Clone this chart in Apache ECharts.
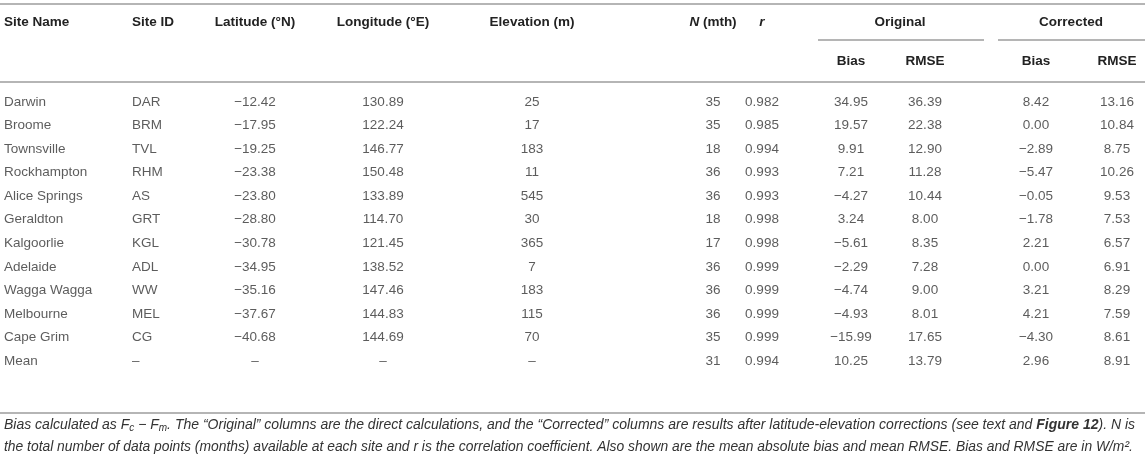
<!DOCTYPE html>
<html lang="en">
<head>
  <meta charset="UTF-8">
  <title>Site statistics table</title>
  <script src="https://cdn.jsdelivr.net/npm/echarts@6.0.0/dist/echarts.min.js"></script>
  <style>
    body { margin: 0; background: #fff; }
  </style>
</head>
<body>
  <div id="main" style="width: 1145px; height: 464px;"></div>

  <script>
    // Table data, one array per column
    const siteNames = ['Darwin', 'Broome', 'Townsville', 'Rockhampton', 'Alice Springs', 'Geraldton',
      'Kalgoorlie', 'Adelaide', 'Wagga Wagga', 'Melbourne', 'Cape Grim', 'Mean'];
    const siteIds = ['DAR', 'BRM', 'TVL', 'RHM', 'AS', 'GRT', 'KGL', 'ADL', 'WW', 'MEL', 'CG', null];
    const latitude = [-12.42, -17.95, -19.25, -23.38, -23.80, -28.80, -30.78, -34.95, -35.16, -37.67, -40.68, null];
    const longitude = [130.89, 122.24, 146.77, 150.48, 133.89, 114.70, 121.45, 138.52, 147.46, 144.83, 144.69, null];
    const elevation = [25, 17, 183, 11, 545, 30, 365, 7, 183, 115, 70, null];
    const months = [35, 35, 18, 36, 36, 18, 17, 36, 36, 36, 35, 31];
    const corrR = [0.982, 0.985, 0.994, 0.993, 0.993, 0.998, 0.998, 0.999, 0.999, 0.999, 0.999, 0.994];
    const origBias = [34.95, 19.57, 9.91, 7.21, -4.27, 3.24, -5.61, -2.29, -4.74, -4.93, -15.99, 10.25];
    const origRmse = [36.39, 22.38, 12.90, 11.28, 10.44, 8.00, 8.35, 7.28, 9.00, 8.01, 17.65, 13.79];
    const corrBias = [8.42, 0.00, -2.89, -5.47, -0.05, -1.78, 2.21, 0.00, 3.21, 4.21, -4.30, 2.96];
    const corrRmse = [13.16, 10.84, 8.75, 10.26, 9.53, 7.53, 6.57, 6.91, 8.29, 7.59, 8.61, 8.91];

    const textColor = '#333';
    const ruleColor = '#b5b5b5';
    const fontFamily = '"Liberation Sans", Arial, sans-serif';

    // number -> table text (real minus sign, dash for missing)
    function fmt(v, digits) {
      if (v === null || v === undefined) return '\u2013';
      if (typeof v === 'string') return v;
      const s = digits === undefined ? String(v) : Math.abs(v).toFixed(digits);
      return v < 0 ? '\u2212' + s.replace('-', '') : s;
    }

    // column layout: x position on the horizontal value axis + alignment
    const columns = [
      { values: siteNames, x: 4, align: 'left' },
      { values: siteIds, x: 132, align: 'left' },
      { values: latitude, digits: 2, x: 255, align: 'center' },
      { values: longitude, digits: 2, x: 383, align: 'center' },
      { values: elevation, x: 532, align: 'center' },
      { values: months, x: 713, align: 'center' },
      { values: corrR, digits: 3, x: 762, align: 'center' },
      { values: origBias, digits: 2, x: 851, align: 'center' },
      { values: origRmse, digits: 2, x: 925, align: 'center' },
      { values: corrBias, digits: 2, x: 1036, align: 'center' },
      { values: corrRmse, digits: 2, x: 1117, align: 'center' }
    ];

    const series = columns.map(col => ({
      type: 'scatter',
      symbolSize: 0,
      silent: true,
      data: col.values.map((v, i) => [col.x, i]),
      label: {
        show: true,
        position: 'inside',
        align: col.align,
        color: textColor,
        fontFamily: fontFamily,
        fontSize: 13.5,
        formatter: p => fmt(col.values[p.dataIndex], col.digits)
      }
    }));

    // header and caption drawn as graphic text
    function headText(text, x, y, align, rich) {
      return {
        type: 'text', x: x, y: y, silent: true,
        style: {
          text: text, align: align, verticalAlign: 'middle',
          fill: '#222', font: 'bold 13.5px ' + fontFamily, rich: rich
        }
      };
    }
    function rule(x1, x2, y) {
      return {
        type: 'line', silent: true,
        shape: { x1: x1, y1: y, x2: x2, y2: y },
        style: { stroke: ruleColor, lineWidth: 2 }
      };
    }

    const capRich = {
      sub: { fontSize: 10, fontStyle: 'italic', fill: '#333', verticalAlign: 'bottom', padding: [7, 0, 0, 0] },
      b: { fontWeight: 'bold', fontStyle: 'italic', fontSize: 14, fill: '#333' }
    };
    const italicHead = { i: { fontStyle: 'italic', fontWeight: 'bold', fontSize: 13.5, fill: '#222' } };

    const graphics = [
      rule(0, 1145, 4),
      rule(818, 984, 40),
      rule(998, 1145, 40),
      rule(0, 1145, 82),
      rule(0, 1145, 413),
      headText('Site Name', 4, 22, 'left'),
      headText('Site ID', 132, 22, 'left'),
      headText('Latitude (°N)', 255, 22, 'center'),
      headText('Longitude (°E)', 383, 22, 'center'),
      headText('Elevation (m)', 532, 22, 'center'),
      headText('{i|N} (mth)', 713, 22, 'center', italicHead),
      headText('{i|r}', 762, 22, 'center', italicHead),
      headText('Original', 900, 22, 'center'),
      headText('Corrected', 1071, 22, 'center'),
      headText('Bias', 851, 61, 'center'),
      headText('RMSE', 925, 61, 'center'),
      headText('Bias', 1036, 61, 'center'),
      headText('RMSE', 1117, 61, 'center'),
      {
        type: 'text', x: 4, y: 425, silent: true,
        style: {
          text: 'Bias calculated as F{sub|c} \u2212 F{sub|m}. The \u201cOriginal\u201d columns are the direct calculations, and the \u201cCorrected\u201d columns are results after latitude-elevation corrections (see text and {b|Figure 12}). N is',
          verticalAlign: 'middle', fill: '#333', font: 'italic 14px ' + fontFamily, rich: capRich
        }
      },
      {
        type: 'text', x: 4, y: 447, silent: true,
        style: {
          text: 'the total number of data points (months) available at each site and r is the correlation coefficient. Also shown are the mean absolute bias and mean RMSE. Bias and RMSE are in W/m\u00b2.',
          verticalAlign: 'middle', fill: '#333', font: 'italic 13.85px ' + fontFamily
        }
      }
    ];

    const chart = echarts.init(document.getElementById('main'));
    chart.setOption({
      animation: false,
      backgroundColor: '#fff',
      grid: { left: 0, right: 0, top: 90, height: 283 },
      xAxis: { type: 'value', min: 0, max: 1145, show: false },
      yAxis: { type: 'category', data: siteNames, inverse: true, show: false },
      series: series,
      graphic: graphics
    });
  </script>
</body>
</html>
